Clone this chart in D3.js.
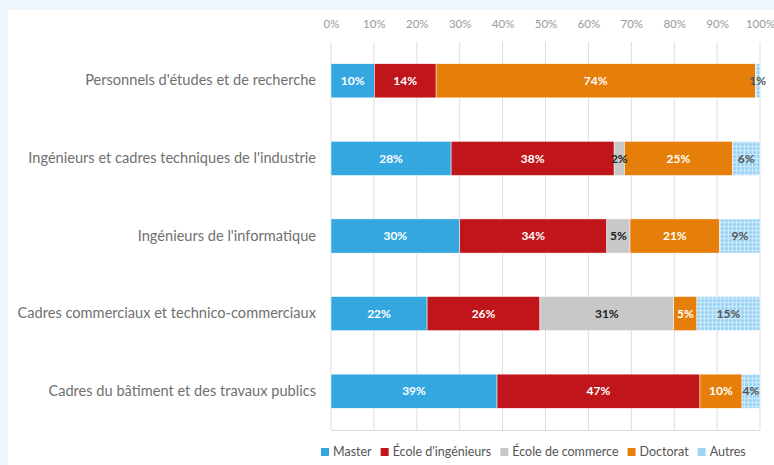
<!DOCTYPE html>
<html>
<head>
<meta charset="utf-8">
<script src="https://cdn.jsdelivr.net/npm/d3@7"></script>
<style>
  html, body { margin: 0; padding: 0; background: #EEF6FC; }
  svg { display: block; }
  text { font-family: Lato, "Open Sans", sans-serif; }
</style>
</head>
<body>
<svg id="chart" width="774" height="465"></svg>
<script>
// Répartition des diplômes par métier (en %)
const categories = [
  "Personnels d'études et de recherche",
  "Ingénieurs et cadres techniques de l'industrie",
  "Ingénieurs de l'informatique",
  "Cadres commerciaux et technico-commerciaux",
  "Cadres du bâtiment et des travaux publics"
];
const seriesNames = ["Master", "École d'ingénieurs", "École de commerce", "Doctorat", "Autres"];
const master    = [10.1, 28.0, 30.0, 22.4, 38.7];
const ingenieur = [14.4, 38.0, 34.3, 26.3, 47.3];
const commerce  = [0.0,  2.4,  5.4,  31.2, 0.0];
const doctorat  = [74.4, 25.2, 20.9, 5.4,  9.8];
const autres    = [1.1,  6.4,  9.4,  14.7, 4.2];
const ticks = [0, 10, 20, 30, 40, 50, 60, 70, 80, 90, 100];

const colors = ["#35A7E0", "#C0161B", "#C8C8C8", "#E67E0A", "url(#autres-pattern)"];
const legendColors = ["#35A7E0", "#C0161B", "#C8C8C8", "#E67E0A", "#9FD3F2"];
const labelColors = ["#ffffff", "#ffffff", "#222222", "#ffffff", "#555555"];

const table = categories.map((c, i) => ({
  cat: c,
  "Master": master[i],
  "École d'ingénieurs": ingenieur[i],
  "École de commerce": commerce[i],
  "Doctorat": doctorat[i],
  "Autres": autres[i]
}));

const svg = d3.select("#chart");

// dotted fill for the "Autres" segments
const defs = svg.append("defs");
const pat = defs.append("pattern")
  .attr("id", "autres-pattern")
  .attr("patternUnits", "userSpaceOnUse")
  .attr("width", 4).attr("height", 4);
pat.append("rect").attr("width", 4).attr("height", 4).attr("fill", "#A3D6F4");
pat.append("rect").attr("x", 0).attr("y", 0).attr("width", 1).attr("height", 4).attr("fill", "#C9E8FA");
pat.append("rect").attr("x", 0).attr("y", 2).attr("width", 4).attr("height", 1).attr("fill", "#C9E8FA");
pat.append("rect").attr("x", 2).attr("y", 0).attr("width", 1).attr("height", 1).attr("fill", "#8CCBF0");

// white panel
svg.append("rect")
  .attr("x", 8).attr("y", 10)
  .attr("width", 774 - 8).attr("height", 465 - 10)
  .attr("fill", "#ffffff");

const x = d3.scaleLinear().domain([0, 100]).range([331, 760]);
const y = d3.scaleBand().domain(categories).range([42, 430]).paddingInner(0.56).paddingOuter(0.28);

// grid lines
svg.append("g").selectAll("line")
  .data(ticks).join("line")
  .attr("x1", d => x(d)).attr("x2", d => x(d))
  .attr("y1", 42).attr("y2", 430)
  .attr("stroke", "#DDDDDD").attr("stroke-width", 1);

// baseline
svg.append("line")
  .attr("x1", x(0)).attr("x2", x(100))
  .attr("y1", 430.5).attr("y2", 430.5)
  .attr("stroke", "#DDDDDD");

// top axis labels
const xAxis = d3.axisTop(x).tickValues(ticks).tickFormat(d => d + "%").tickSize(0).tickPadding(0);
const gx = svg.append("g").attr("transform", "translate(0,28)").call(xAxis);
gx.select(".domain").remove();
gx.selectAll("text")
  .attr("fill", "#9A9A9A")
  .style("font-size", "11.5px")
  .style("font-family", "Lato, sans-serif");

// category labels
const yAxis = d3.axisLeft(y).tickSize(0).tickPadding(15);
const gy = svg.append("g").attr("transform", `translate(${x(0)},0)`).call(yAxis);
gy.select(".domain").remove();
gy.selectAll("text")
  .attr("fill", "#707070")
  .style("font-size", "14.6px")
  .style("font-family", "Lato, sans-serif");

// stacked bars
const stack = d3.stack().keys(seriesNames);
const stacked = stack(table);

const layers = svg.append("g").selectAll("g")
  .data(stacked).join("g")
  .attr("fill", (d, i) => colors[i]);

layers.selectAll("rect")
  .data(d => d.filter(s => s[1] - s[0] > 0))
  .join("rect")
  .attr("x", d => x(d[0]))
  .attr("width", d => x(d[1]) - x(d[0]))
  .attr("y", d => y(d.data.cat))
  .attr("height", y.bandwidth())
  .attr("stroke", "#ffffff")
  .attr("stroke-width", 0.5);

// value labels
stacked.forEach((layer, i) => {
  svg.append("g").selectAll("text")
    .data(layer.filter(s => s[1] - s[0] > 0))
    .join("text")
    .attr("x", d => (x(d[0]) + x(d[1])) / 2)
    .attr("y", d => y(d.data.cat) + y.bandwidth() / 2)
    .attr("dy", "0.35em")
    .attr("text-anchor", "middle")
    .attr("fill", labelColors[i])
    .style("font-size", "12px")
    .style("font-weight", "bold")
    .text(d => Math.round(d[1] - d[0]) + "%");
});

// legend
const legendItems = seriesNames.map((n, i) => ({ name: n, color: legendColors[i] }));
const lg = svg.append("g").attr("transform", "translate(0,452)");
let lx = 321;
legendItems.forEach(item => {
  const g = lg.append("g").attr("transform", `translate(${lx},0)`);
  g.append("rect").attr("x", 0).attr("y", -4).attr("width", 8).attr("height", 8).attr("fill", item.color);
  const t = g.append("text")
    .attr("x", 12).attr("y", 0).attr("dy", "0.35em")
    .attr("fill", "#555555")
    .style("font-size", "12.5px")
    .text(item.name);
  lx += 12 + t.node().getComputedTextLength() + 9;
});
</script>
</body>
</html>
